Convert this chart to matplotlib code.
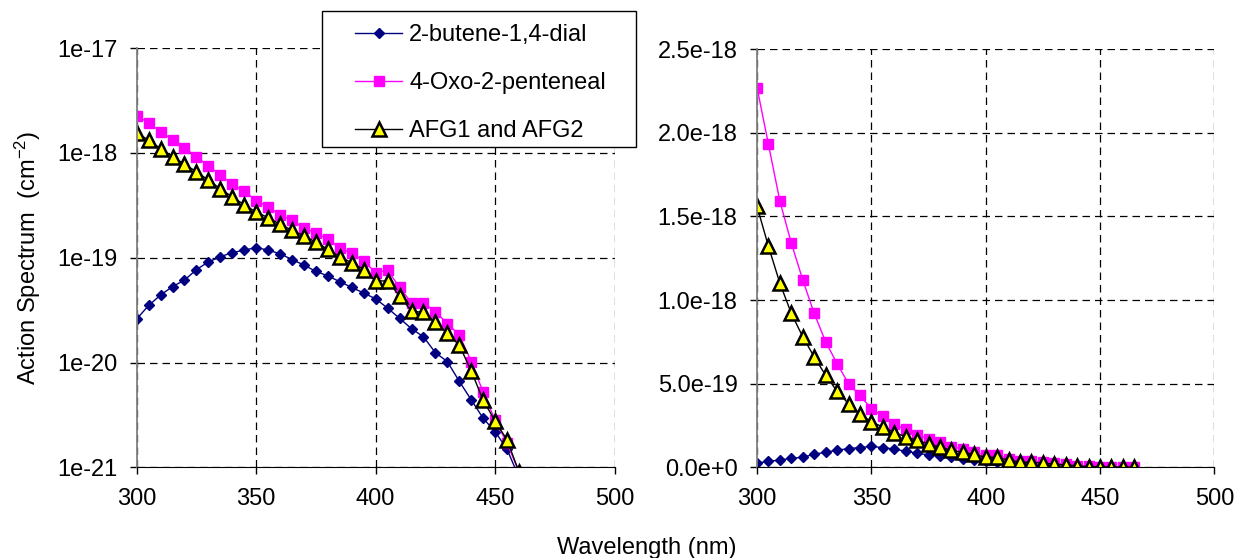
import numpy as np
import matplotlib
matplotlib.use("Agg")
import matplotlib.pyplot as plt
from matplotlib.ticker import FixedLocator, FuncFormatter
from matplotlib.patches import Rectangle

plt.rcParams['font.family'] = ['Liberation Sans', 'DejaVu Sans']
plt.rcParams['mathtext.default'] = 'regular'

wavelength = np.arange(300, 470, 5)

butenedial = [2.6e-20, 3.5e-20, 4.4e-20, 5.3e-20, 6.1e-20, 7.7e-20, 9.1e-20, 1.02e-19,
              1.12e-19, 1.18e-19, 1.25e-19, 1.18e-19, 1.09e-19, 9.6e-20, 8.5e-20, 7.4e-20,
              6.7e-20, 5.9e-20, 5.2e-20, 4.6e-20, 4.05e-20, 3.3e-20, 2.64e-20, 2.1e-20,
              1.76e-20, 1.24e-20, 1.02e-20, 6.6e-21, 4.4e-21, 2.93e-21, 2.19e-21, 1.48e-21,
              8e-22, 4e-22]

oxopenteneal = [2.27e-18, 1.93e-18, 1.59e-18, 1.34e-18, 1.12e-18, 9.2e-19, 7.5e-19, 6.2e-19,
                5.0e-19, 4.3e-19, 3.5e-19, 3.05e-19, 2.57e-19, 2.27e-19, 1.92e-19, 1.72e-19,
                1.5e-19, 1.24e-19, 1.1e-19, 9.3e-20, 7.2e-20, 7.6e-20, 5.2e-20, 3.7e-20,
                3.7e-20, 3.05e-20, 2.35e-20, 1.83e-20, 1.02e-20, 5.2e-21, 2.8e-21, 1.7e-21,
                9e-22, 4e-22]

afg = [1.56e-18, 1.32e-18, 1.1e-18, 9.2e-19, 7.8e-19, 6.6e-19, 5.5e-19, 4.55e-19,
       3.8e-19, 3.2e-19, 2.72e-19, 2.41e-19, 2.08e-19, 1.83e-19, 1.61e-19, 1.41e-19,
       1.2e-19, 1.02e-19, 8.95e-20, 7.7e-20, 6.0e-20, 6.0e-20, 4.3e-20, 3.1e-20,
       3.0e-20, 2.43e-20, 1.9e-20, 1.46e-20, 8.3e-21, 4.35e-21, 2.76e-21, 1.82e-21,
       9e-22, 4e-22]

labels = ['2-butene-1,4-dial', '4-Oxo-2-penteneal', 'AFG1 and AFG2']
x_ticks = [300, 350, 400, 450, 500]
log_ticks = [1e-21, 1e-20, 1e-19, 1e-18, 1e-17]
lin_ticks = [0, 5e-19, 1e-18, 1.5e-18, 2e-18, 2.5e-18]

FS = 17


def lin_fmt(v, pos):
    if v == 0:
        return '0.0e+0'
    e = int(np.floor(np.log10(v) + 1e-9))
    return f'{v / 10 ** e:.1f}e{e}'


def log_fmt(v, pos):
    return f'1e{int(round(np.log10(v)))}'


fig = plt.figure(figsize=(12.38, 5.58), dpi=100)
ax1 = fig.add_axes([0.1104, 0.1625, 0.3861, 0.7514])
ax2 = fig.add_axes([0.6115, 0.1625, 0.3694, 0.7496])

for ax in (ax1, ax2):
    l1, = ax.plot(wavelength, butenedial, color='#000080', lw=1, marker='D', ms=5.3,
                  mfc='#000080', mec='#000080')
    l2, = ax.plot(wavelength, oxopenteneal, color='#FF00FF', lw=1, marker='s', ms=6.8,
                  mfc='#FF00FF', mec='#FF00FF')
    l3, = ax.plot(wavelength, afg, color='black', lw=1, marker='^', ms=10.5,
                  mfc='#FFFF00', mec='black', mew=1.8)
    ax.set_xlim(300, 500)
    ax.xaxis.set_major_locator(FixedLocator(x_ticks))
    ax.grid(True, color='black', linestyle=(0, (6, 4)), linewidth=0.9)
    ax.set_axisbelow(True)
    ax.spines['top'].set_visible(False)
    ax.spines['right'].set_visible(False)
    ax.spines['left'].set_color('#808080')
    ax.spines['left'].set_linewidth(1.3)
    ax.spines['bottom'].set_color('black')
    ax.tick_params(axis='y', direction='out', length=5, width=1, pad=9, labelsize=FS)
    ax.tick_params(axis='x', direction='out', length=5, width=1, pad=10, labelsize=FS)

ax1.set_yscale('log')
ax1.set_ylim(1e-21, 1e-17)
ax1.yaxis.set_major_locator(FixedLocator(log_ticks))
ax1.yaxis.set_major_formatter(FuncFormatter(log_fmt))
ax1.yaxis.set_minor_locator(FixedLocator([]))
ax1.set_ylabel('Action Spectrum  (cm$^{-2}$)', fontsize=FS, labelpad=10)

ax2.set_ylim(0, 2.5e-18)
ax2.yaxis.set_major_locator(FixedLocator(lin_ticks))
ax2.yaxis.set_major_formatter(FuncFormatter(lin_fmt))

fig.text(647 / 1238, 1 - 548 / 558, 'Wavelength (nm)', fontsize=FS, ha='center', va='center')

leg = fig.legend([l1, l2, l3], labels, loc='upper left', bbox_to_anchor=(355 / 1238, 1 - 24 / 558),
                 frameon=False, fontsize=FS, handlelength=2.0, handletextpad=0.3,
                 labelspacing=1.1, borderpad=0, borderaxespad=0)
fig.patches.append(Rectangle((322 / 1238, 1 - 147 / 558), 314 / 1238, 136 / 558,
                             transform=fig.transFigure, fill=True, facecolor='white',
                             edgecolor='black', linewidth=1, zorder=0))

fig.savefig('out.png', dpi=100)
